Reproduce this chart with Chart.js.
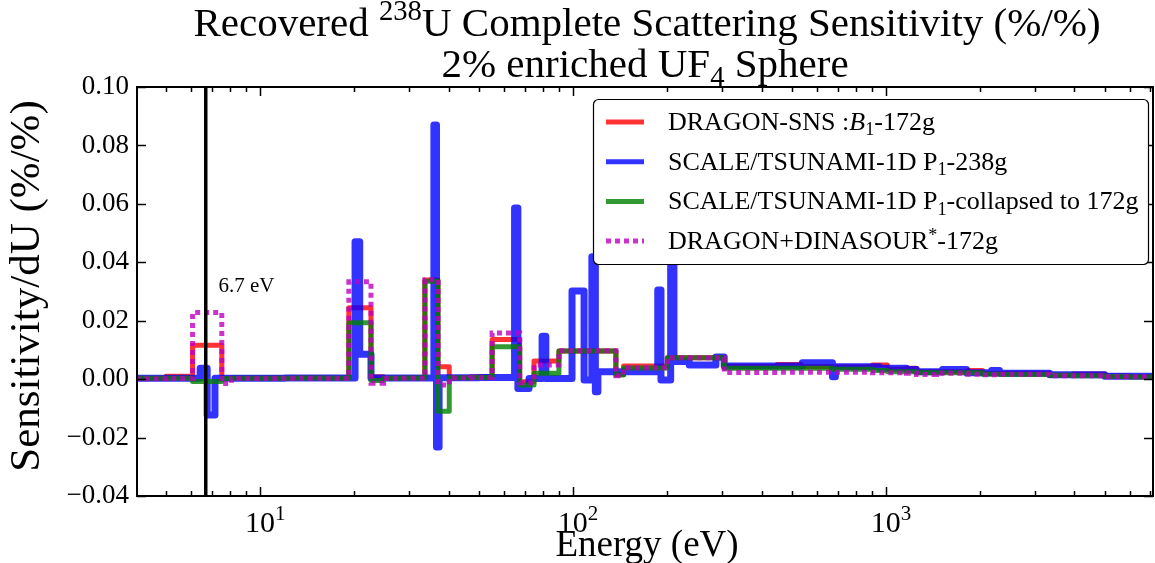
<!DOCTYPE html>
<html>
<head>
<meta charset="utf-8">
<script src="https://cdn.jsdelivr.net/npm/chart.js@4.4.0/dist/chart.umd.min.js"></script>
<style>
  html, body { margin: 0; padding: 0; background: #fff; }
  #wrap { width: 1155px; height: 563px; }
</style>
</head>
<body>
<div id="wrap"><canvas id="chart" width="1155" height="563"></canvas></div>
<script>
// energy group boundaries (eV)
const edges172 = [3.5, 5.0, 6.08, 7.54, 8.1, 10.0, 13.0, 16.0, 19.2, 22.6, 24.8, 28.0, 33.6, 37.0, 40.2, 47.0, 55.1, 67.5, 75.0, 90.1,
  137, 145, 200, 304, 449, 536, 674, 905, 1010, 1162, 1251, 1450, 1822, 2034, 2305, 3334, 3950, 5000, 6000, 8000];
const edges238 = [3.5, 6.43, 6.77, 7.17, 12.0, 20.1, 20.8, 22.6, 35.9, 36.6, 37.3, 50.0, 65.0, 66.6, 72.3, 79.6, 81.8, 99.2, 108.4, 114.8,
  117.8, 120.0, 186.4, 190.9, 205, 210, 235, 286, 304, 540, 674, 689, 952, 1162, 1251, 1515, 1808, 2174, 2305, 3334, 5000, 8000];

// sensitivity per group (%/%)
const dragonSns = [0.0003, 0.0010, 0.0116, 0.0003, 0.0004, 0.0004, 0.0005, 0.0004, 0.0244, 0.0008,
  0.0004, 0.0005, 0.0339, 0.0042, 0.0006, 0.0008, 0.0136, -0.0009, 0.0062, 0.0096,
  0.0016, 0.0045, 0.0073, 0.0044, 0.0050, 0.0043, 0.0042, 0.0048, 0.0035, 0.0037,
  0.0025, 0.0025, 0.0030, 0.0020, 0.0020, 0.0014, 0.0018, 0.0011, 0.0009];
const tsunami238 = [0.0003, 0.0037, -0.0123, 0.0003, 0.0004, 0.0470, 0.0085, 0.0004, 0.0870, -0.0232,
  0.0005, 0.0006, 0.0586, -0.0032, 0.0002, 0.0147, 0.0002, 0.0302, -0.0003, 0.0419,
  -0.0043, 0.0025, 0.0305, -0.0003, 0.0550, 0.0060, 0.0048, 0.0076, 0.0045, 0.0056,
  0.0008, 0.0042, 0.0037, 0.0033, 0.0025, 0.0033, 0.0022, 0.0030, 0.0020, 0.0015, 0.0010];
const tsunamiCollapsed = [0.0003, 0.0003, -0.0008, 0.0002, 0.0003, 0.0003, 0.0004, 0.0003, 0.0193, -0.0005,
  0.0003, 0.0004, 0.0335, -0.0110, 0.0005, 0.0006, 0.0111, -0.0020, 0.0020, 0.0096,
  0.0014, 0.0038, 0.0073, 0.0037, 0.0037, 0.0037, 0.0034, 0.0030, 0.0025, 0.0025,
  0.0022, 0.0022, 0.0022, 0.0017, 0.0016, 0.0013, 0.0012, 0.0009, 0.0007];
const dragonDinasour = [0.0001, 0.0002, 0.0228, -0.0015, 0.0002, 0.0002, 0.0003, 0.0002, 0.0333, -0.0014,
  0.0002, 0.0003, 0.0340, -0.0020, 0.0004, 0.0005, 0.0158, -0.0012, 0.0048, 0.0097,
  0.0012, 0.0039, 0.0073, 0.0023, 0.0024, 0.0024, 0.0024, 0.0022, 0.0022, 0.0020,
  0.0016, 0.0020, 0.0017, 0.0015, 0.0017, 0.0012, 0.0012, 0.0008, 0.0008];

const xMajor = [10, 100, 1000];
const xMajorExp = ['1', '2', '3'];
const resonanceEnergy = 6.7;
const resonanceLabel = '6.7 eV';

const SERIF = '"Liberation Serif", "Times New Roman", serif';

// step points: each group value holds from its lower edge to the next edge
function steps(edges, vals) {
  const pts = vals.map((v, i) => ({ x: edges[i], y: v }));
  pts.push({ x: edges[edges.length - 1], y: vals[vals.length - 1] });
  return pts;
}

function segFont(s, size) {
  return (s.it ? 'italic ' : '') + (size * (s.s || 1)).toFixed(1) + 'px ' + SERIF;
}
// draws text made of pieces (superscripts, subscripts, italics)
function drawRich(ctx, segs, x, y, size, align) {
  segs = segs.map(s => typeof s === 'string' ? { t: s } : s);
  let w = 0;
  segs.forEach(s => { ctx.font = segFont(s, size); w += ctx.measureText(s.t).width; });
  let cx = align === 'center' ? x - w / 2 : x;
  ctx.textAlign = 'left';
  segs.forEach(s => {
    ctx.font = segFont(s, size);
    ctx.fillText(s.t, cx, y + (s.dy || 0) * size);
    cx += ctx.measureText(s.t).width;
  });
  return w;
}

const series = [
  { label: ['DRAGON-SNS ', ':', { t: 'B', it: true }, { t: '1', s: 0.7, dy: 0.2 }, '-172g'], color: 'rgba(255,0,0,0.8)', dash: [] },
  { label: ['SCALE/TSUNAMI-1D P', { t: '1', s: 0.7, dy: 0.2 }, '-238g'], color: 'rgba(0,0,255,0.8)', dash: [] },
  { label: ['SCALE/TSUNAMI-1D P', { t: '1', s: 0.7, dy: 0.2 }, '-collapsed to 172g'], color: 'rgba(0,128,0,0.8)', dash: [] },
  { label: ['DRAGON+DINASOUR', { t: '*', s: 0.7, dy: -0.3 }, '-172g'], color: 'rgba(191,0,191,0.8)', dash: [5, 4] }
];

const decorations = {
  id: 'decorations',
  afterDraw(chart) {
    const { ctx, chartArea: a, scales: { x, y } } = chart;
    ctx.save();
    ctx.fillStyle = '#000';
    ctx.strokeStyle = '#000';

    // ticks on all four sides, pointing inwards
    ctx.lineWidth = 1.5;
    ctx.beginPath();
    for (let k = 0; k <= 4; k++) {
      for (let m = 1; m <= 9; m++) {
        const v = m * Math.pow(10, k);
        if (v < x.min || v > x.max) continue;
        const px = Math.round(x.getPixelForValue(v)) + 0.5;
        const len = m === 1 ? 9 : 5;
        ctx.moveTo(px, a.bottom); ctx.lineTo(px, a.bottom - len);
        ctx.moveTo(px, a.top); ctx.lineTo(px, a.top + len);
      }
    }
    y.ticks.forEach(t => {
      const py = Math.round(y.getPixelForValue(t.value)) + 0.5;
      ctx.moveTo(a.left, py); ctx.lineTo(a.left + 9, py);
      ctx.moveTo(a.right, py); ctx.lineTo(a.right - 9, py);
    });
    ctx.stroke();

    ctx.lineWidth = 2;
    ctx.strokeRect(a.left, a.top, a.right - a.left, a.bottom - a.top);

    // x tick labels 10^n
    ctx.textBaseline = 'alphabetic';
    xMajor.forEach((v, i) => {
      const px = x.getPixelForValue(v);
      drawRich(ctx, ['10', { t: xMajorExp[i], s: 0.7, dy: -0.4 }], px + 5, a.bottom + 36, 30, 'center');
    });

    // titles
    drawRich(ctx, ['Recovered ', { t: '238', s: 0.7, dy: -0.38 }, 'U Complete Scattering Sensitivity (%/%)'], 647, 36, 41, 'center');
    drawRich(ctx, ['2% enriched UF', { t: '4', s: 0.7, dy: 0.22 }, ' Sphere'], 645, 77, 41, 'center');
    drawRich(ctx, ['Energy (eV)'], 647, 556, 37, 'center');
    ctx.save();
    ctx.translate(39, 286);
    ctx.rotate(-Math.PI / 2);
    drawRich(ctx, ['Sensitivity/dU (%/%)'], 0, 0, 43, 'center');
    ctx.restore();

    // resonance annotation
    drawRich(ctx, [resonanceLabel], x.getPixelForValue(7.36), y.getPixelForValue(0.030), 21, 'left');

    // legend
    const lx = 593, ly = 99, lw = 555, lh = 165;
    ctx.beginPath();
    ctx.roundRect(lx + 0.5, ly + 0.5, lw, lh, 5);
    ctx.fillStyle = '#fff';
    ctx.fill();
    ctx.lineWidth = 1.2;
    ctx.strokeStyle = '#000';
    ctx.stroke();
    series.forEach((s, i) => {
      const ry = 122 + i * 39.7;
      ctx.beginPath();
      ctx.strokeStyle = s.color;
      ctx.lineWidth = 5;
      ctx.setLineDash(s.dash);
      ctx.moveTo(606, ry); ctx.lineTo(644, ry);
      ctx.stroke();
      ctx.setLineDash([]);
      ctx.fillStyle = '#000';
      drawRich(ctx, s.label, 668, ry + 8, 26, 'left');
    });
    ctx.restore();
  }
};

function stepSet(label, data, s, width, order) {
  return {
    label: label, data: data, stepped: 'before', borderColor: s.color, borderWidth: width,
    borderDash: s.dash, borderJoinStyle: s.dash.length ? 'miter' : 'round',
    borderCapStyle: s.dash.length ? 'butt' : 'round', pointRadius: 0, clip: 0, order: order
  };
}

new Chart(document.getElementById('chart'), {
  type: 'line',
  data: {
    datasets: [
      stepSet('DRAGON-SNS', steps(edges172, dragonSns), series[0], 5, 4),
      stepSet('SCALE 238g', steps(edges238, tsunami238), series[1], 7, 3),
      stepSet('SCALE collapsed', steps(edges172, tsunamiCollapsed), series[2], 5, 2),
      stepSet('DRAGON+DINASOUR', steps(edges172, dragonDinasour), series[3], 5, 1),
      {
        label: 'resonance', data: [{ x: resonanceEnergy, y: -0.05 }, { x: resonanceEnergy, y: 0.11 }],
        borderColor: '#000', borderWidth: 3.5, pointRadius: 0, clip: 0, order: 0
      }
    ]
  },
  options: {
    responsive: false,
    animation: false,
    devicePixelRatio: 1,
    layout: { padding: { top: 87, right: 2, left: 0, bottom: 0 } },
    plugins: { legend: { display: false }, tooltip: { enabled: false }, title: { display: false } },
    elements: { line: { tension: 0, fill: false } },
    scales: {
      x: {
        type: 'logarithmic', min: 4.04, max: 7130,
        grid: { display: false, drawTicks: false }, border: { display: false },
        ticks: { display: false },
        afterFit(s) { s.height = 67; }
      },
      y: {
        type: 'linear', min: -0.04, max: 0.10,
        grid: { display: false, drawTicks: false }, border: { display: false },
        ticks: {
          stepSize: 0.02, padding: 8, color: '#000', font: { family: SERIF, size: 27 },
          callback: v => v.toFixed(2).replace('-', '\u2212')
        },
        afterFit(s) { s.width = 137; }
      }
    }
  },
  plugins: [decorations]
});
</script>
</body>
</html>
